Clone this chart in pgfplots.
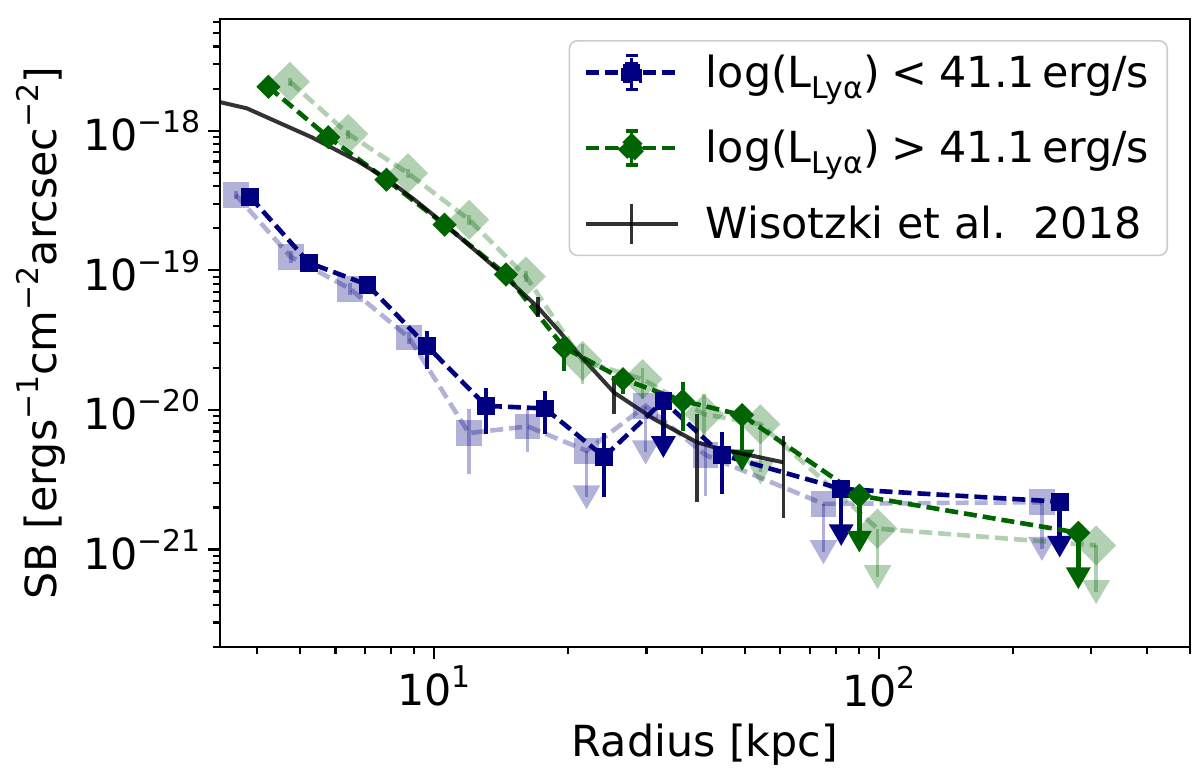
\documentclass[border=0pt]{standalone}
\usepackage{fontspec}
\setmainfont{DejaVu Sans}
\usepackage{pgfplots}
\pgfplotsset{compat=1.18}
\definecolor{dblue}{RGB}{0,0,128}
\definecolor{dgreen}{RGB}{0,100,0}
\newcommand{\sups}[1]{\raisebox{0.42em}{\fontsize{15}{15}\selectfont #1}}
\newcommand{\subs}[1]{\raisebox{-0.25em}{\fontsize{15}{15}\selectfont #1}}
\pgfplotsset{
 legblue/.style={legend image code/.code={
   \draw[dblue, line width=2.3bp, dash pattern=on 6.5bp off 3bp, sharp corners, draw opacity=1] (0bp,0bp) -- (46bp,0bp);
   \draw[dblue, line width=1.8bp, sharp corners, draw opacity=1] (23bp,-8.5bp) -- (23bp,8.5bp) (20bp,-8.5bp) -- (26bp,-8.5bp) (20bp,8.5bp) -- (26bp,8.5bp);
   \fill[dblue, sharp corners, fill opacity=1] (18.8bp,-4.2bp) rectangle (27.2bp,4.2bp);
 }},
 leggreen/.style={legend image code/.code={
   \draw[dgreen, line width=2.3bp, dash pattern=on 6.5bp off 3bp, sharp corners, draw opacity=1] (0bp,0bp) -- (46bp,0bp);
   \draw[dgreen, line width=1.8bp, sharp corners, draw opacity=1] (23bp,-8.5bp) -- (23bp,8.5bp) (20bp,-8.5bp) -- (26bp,-8.5bp) (20bp,8.5bp) -- (26bp,8.5bp);
   \fill[dgreen, sharp corners, fill opacity=1] (23bp,6bp) -- (29bp,0bp) -- (23bp,-6bp) -- (17bp,0bp) -- cycle;
 }},
 legblack/.style={legend image code/.code={
   \draw[black, draw opacity=0.8, line width=2bp, sharp corners] (0bp,0bp) -- (46bp,0bp);
   \draw[black, draw opacity=0.8, line width=1.7bp, sharp corners] (23bp,-10bp) -- (23bp,10bp);
 }},
}
\begin{document}
\begin{tikzpicture}
\useasboundingbox (-110bp,-63bp) rectangle (490bp,323.5bp);
\begin{axis}[
  at={(0,0)}, anchor=south west,
  scale only axis, width=485bp, height=314bp,
  xmode=log, ymode=log,
  xmin=3.3, xmax=500, ymin=2e-22, ymax=6.3e-18,
  font=\fontsize{21.5}{25}\selectfont,
  tick align=outside, tick pos=left,
  major tick length=6bp, minor tick length=3.5bp,
  every tick/.style={black, line width=1.1bp},
  axis line style={line width=1.1bp},
  xtick={10,100}, xticklabels={10\sups{1},10\sups{2}},
  minor xtick={4,5,6,7,8,9,20,30,40,50,60,70,80,90,200,300,400,500},
  ytick={1e-21,1e-20,1e-19,1e-18},
  yticklabels={10\sups{−21},10\sups{−20},10\sups{−19},10\sups{−18}},
  minor ytick={2e-22,3e-22,4e-22,5e-22,6e-22,7e-22,8e-22,9e-22,
               2e-21,3e-21,4e-21,5e-21,6e-21,7e-21,8e-21,9e-21,
               2e-20,3e-20,4e-20,5e-20,6e-20,7e-20,8e-20,9e-20,
               2e-19,3e-19,4e-19,5e-19,6e-19,7e-19,8e-19,9e-19,
               2e-18,3e-18,4e-18,5e-18,6e-18},
  xlabel={Radius [kpc]},
  ylabel={SB [ergs\sups{−1}cm\sups{−2}arcsec\sups{−2}]},
  every axis x label/.style={at={(axis description cs:0.5,0)}, yshift=-49bp, anchor=center},
  every axis y label/.style={at={(axis description cs:0,0.5)}, xshift=-89.5bp, rotate=90, anchor=center},
  legend style={at={(rel axis cs:1,1)}, anchor=north east, xshift=-11bp, yshift=-10.5bp,
    draw=black!20, line width=0.8bp, rounded corners=4bp, fill=white, fill opacity=0.8, text opacity=1,
    inner xsep=7bp, inner ysep=5bp, row sep=16bp,
    /tikz/every odd column/.append style={column sep=11bp},
    font=\fontsize{21.5}{25}\selectfont},
  legend cell align=left,
]
% light blue (faded)
\addplot[forget plot, dblue, opacity=0.3, line width=2.3bp, dash pattern=on 6.5bp off 3bp,
  mark=square*, mark size=6.4bp, mark options={solid, draw opacity=0, line width=0pt, fill=dblue, fill opacity=0.3},
  error bars/.cd, y dir=both, y explicit, error mark=none,
  error bar style={solid, line width=1.8bp, dblue, opacity=0.3}]
coordinates {
 (3.58,3.47e-19) +- (0,2.5e-20)
 (4.76,1.247e-19) +- (0,1.2e-20)
 (6.47,7.36e-20) +- (0,7e-21)
 (8.78,3.29e-20) +- (0,3.5e-21)
 (11.96,6.82e-21) += (0,3.29e-21) -= (0,3.35e-21)
 (16.22,7.61e-21) += (0,2.5e-21) -= (0,2.65e-21)
 (22.0,5.09e-21)
 (29.88,1.068e-20)
 (40.7,4.75e-21) += (0,1.43e-21) -= (0,2.32e-21)
 (75.0,2.12e-21)
 (232.3,2.18e-21)
};
\addplot[forget plot, draw=none, mark=none,
  error bars/.cd, y dir=minus, y explicit, error mark=triangle*,
  error mark options={rotate=270, draw opacity=0, fill=dblue, fill opacity=0.3, mark size=8bp},
  error bar style={solid, line width=1.8bp, draw=dblue, draw opacity=0.3}]
coordinates {
 (22.0,5.09e-21) -= (0,2.725e-21)
 (29.88,1.068e-20) -= (0,5.73e-21)
 (75.0,2.12e-21) -= (0,1.163e-21)
 (232.3,2.18e-21) -= (0,1.17e-21)
};
% light green (faded)
\addplot[forget plot, dgreen, opacity=0.3, line width=2.3bp, dash pattern=on 6.5bp off 3bp,
  mark=square*, mark size=7.07bp, mark options={solid, rotate=45, draw opacity=0, line width=0pt, fill=dgreen, fill opacity=0.3},
  error bars/.cd, y dir=both, y explicit, error mark=none,
  error bar style={solid, line width=1.8bp, dgreen, opacity=0.3}]
coordinates {
 (4.74,2.24e-18) +- (0,1.5e-19)
 (6.41,9.47e-19) +- (0,7e-20)
 (8.73,4.96e-19) +- (0,3.5e-20)
 (11.98,2.3e-19) +- (0,1.8e-20)
 (16.08,9.02e-20) +- (0,8e-21)
 (21.55,2.24e-20) += (0,7.1e-21) -= (0,7.1e-21)
 (29.4,1.66e-20) += (0,3.4e-21) -= (0,4.7e-21)
 (40.4,9.31e-21) += (0,3.64e-21) -= (0,3.13e-21)
 (54.1,7.9e-21)
 (99.2,1.41e-21)
 (307.6,1.069e-21)
};
\addplot[forget plot, draw=none, mark=none,
  error bars/.cd, y dir=minus, y explicit, error mark=triangle*,
  error mark options={rotate=270, draw opacity=0, fill=dgreen, fill opacity=0.3, mark size=8bp},
  error bar style={solid, line width=1.8bp, draw=dgreen, draw opacity=0.3}]
coordinates {
 (54.1,7.9e-21) -= (0,4.34e-21)
 (99.2,1.41e-21) -= (0,7.76e-22)
 (307.6,1.069e-21) -= (0,5.74e-22)
};
% dark blue
\addplot[legblue, dblue, line width=2.3bp, dash pattern=on 6.5bp off 3bp,
  mark=square*, mark size=4.2bp, mark options={solid, line width=0.4bp},
  error bars/.cd, y dir=both, y explicit, error mark=none,
  error bar style={solid, line width=2.2bp, dblue}]
coordinates {
 (3.86,3.345e-19)
 (5.23,1.13e-19)
 (7.08,7.87e-20)
 (9.63,2.865e-20) += (0,7.95e-21) -= (0,9.15e-21)
 (13.08,1.068e-20) += (0,3.77e-21) -= (0,3.98e-21)
 (17.74,1.023e-20) += (0,3.44e-21) -= (0,3.53e-21)
 (24.09,4.61e-21) += (0,2.21e-21) -= (0,2.24e-21)
 (32.74,1.159e-20)
 (44.4,4.75e-21) += (0,2.15e-21) -= (0,2.25e-21)
 (82.2,2.715e-21)
 (254.7,2.2e-21)
};
\addlegendentry{log(L\subs{Lyα})\;<\;41.1\,erg/s}
\addplot[forget plot, draw=none, mark=none,
  error bars/.cd, y dir=minus, y explicit, error mark=triangle*,
  error mark options={rotate=270, draw opacity=0, fill=dblue, mark size=7.2bp},
  error bar style={solid, line width=2.2bp, draw=dblue}]
coordinates {
 (32.74,1.159e-20) -= (0,6.17e-21)
 (82.2,2.715e-21) -= (0,1.447e-21)
 (254.7,2.2e-21) -= (0,1.153e-21)
};
% dark green
\addplot[leggreen, dgreen, line width=2.3bp, dash pattern=on 6.5bp off 3bp,
  mark=square*, mark size=4.07bp, mark options={solid, rotate=45, line width=0.4bp},
  error bars/.cd, y dir=both, y explicit, error mark=none,
  error bar style={solid, line width=2.2bp, dgreen}]
coordinates {
 (4.24,2.06e-18)
 (5.78,8.97e-19)
 (7.81,4.45e-19)
 (10.55,2.12e-19)
 (14.5,9.32e-20)
 (19.6,2.79e-20) += (0,4.1e-21) -= (0,8.9e-21)
 (26.57,1.66e-20) += (0,2.9e-21) -= (0,3.65e-21)
 (36.2,1.159e-20) += (0,4.11e-21) -= (0,4.51e-21)
 (49.2,9.17e-21)
 (90.3,2.43e-21)
 (280.5,1.316e-21)
};
\addlegendentry{log(L\subs{Lyα})\;>\;41.1\,erg/s}
\addplot[forget plot, draw=none, mark=none,
  error bars/.cd, y dir=minus, y explicit, error mark=triangle*,
  error mark options={rotate=270, draw opacity=0, fill=dgreen, mark size=7.2bp},
  error bar style={solid, line width=2.2bp, draw=dgreen}]
coordinates {
 (49.2,9.17e-21) -= (0,4.82e-21)
 (90.3,2.43e-21) -= (0,1.293e-21)
 (280.5,1.316e-21) -= (0,6.94e-22)
};
% Wisotzki et al. 2018
\addplot[legblack, black, opacity=0.8, line width=2bp, mark=none,
  error bars/.cd, y dir=both, y explicit, error mark=none,
  error bar style={line width=1.7bp, black, opacity=0.8}]
coordinates {
 (3.3,1.6e-18)
 (3.79,1.445e-18)
 (5.30,8.97e-19)
 (6.75,6.01e-19)
 (7.87,4.45e-19)
 (9.03,3.2e-19)
 (10.37,2.24e-19)
 (13.89,1.01e-19)
 (17.11,5.42e-20) += (0,9.6e-21) -= (0,8.3e-21)
 (18.94,3.77e-20)
 (20.99,2.57e-20)
 (25.37,1.33e-20) += (0,4.2e-21) -= (0,3.99e-21)
 (31.2,8.59e-21)
 (39.0,5.85e-21) += (0,3.46e-21) -= (0,3.67e-21)
 (44.0,5.24e-21)
 (60.9,4.21e-21) += (0,2.28e-21) -= (0,2.53e-21)
};
\addlegendentry{Wisotzki et al.\ \ 2018}
\end{axis}
\end{tikzpicture}
\end{document}
